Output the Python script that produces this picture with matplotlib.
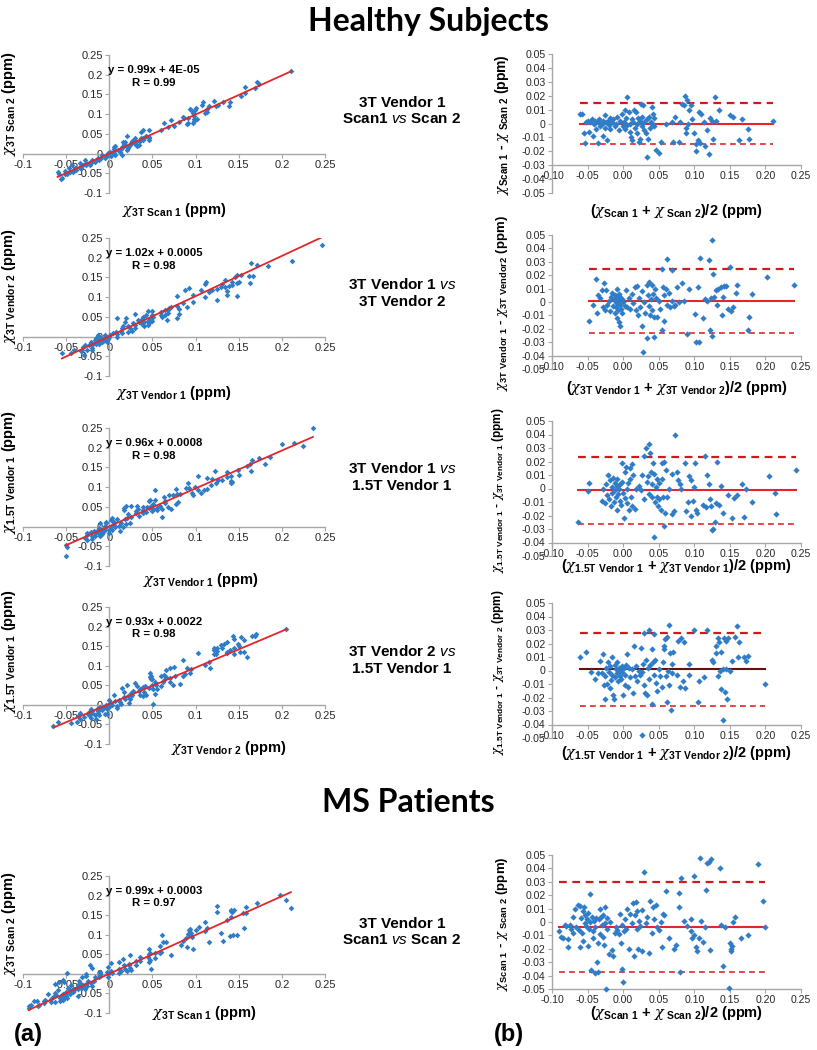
import numpy as np
import matplotlib
matplotlib.use('Agg')
import matplotlib.pyplot as plt
from matplotlib.ticker import FuncFormatter

plt.rcParams['font.family'] = ['Liberation Sans', 'DejaVu Sans']
plt.rcParams['mathtext.fontset'] = 'custom'
plt.rcParams['mathtext.rm'] = 'Liberation Sans'
plt.rcParams['mathtext.it'] = 'DejaVu Serif:italic'
plt.rcParams['mathtext.sf'] = 'Liberation Sans:italic'
plt.rcParams['mathtext.bf'] = 'Liberation Sans:bold'

W, H = 817, 1050

# Bland-Altman points: (mean, difference) in ppm
ba_scan = [(-0.060, 0.007), (-0.058, 0.007), (-0.055, -0.007), (-0.053, -0.014), (-0.052, 0.001), (-0.050, 0.002),
           (-0.048, -0.006), (-0.046, 0.001), (-0.044, 0.003), (-0.042, -0.009), (-0.041, 0.000), (-0.040, 0.002),
           (-0.038, -0.004), (-0.036, -0.014), (-0.035, 0.001), (-0.034, 0.003), (-0.032, -0.002), (-0.030, 0.000),
           (-0.029, -0.009), (-0.028, 0.002), (-0.026, -0.003), (-0.025, 0.006), (-0.024, 0.001), (-0.022, -0.012),
           (-0.021, 0.002), (-0.020, -0.001), (-0.019, 0.004), (-0.018, -0.004), (-0.016, 0.001), (-0.014, 0.003),
           (-0.012, -0.002), (-0.010, 0.000), (-0.008, 0.005), (-0.006, -0.005), (-0.004, 0.002), (-0.002, 0.007),
           (0.000, -0.002), (0.001, 0.001), (0.002, 0.010), (0.003, -0.004), (0.004, 0.004), (0.005, 0.019),
           (0.006, -0.001), (0.008, 0.008), (0.009, -0.006), (0.010, 0.000), (0.011, -0.010), (0.012, 0.003),
           (0.013, -0.012), (0.014, 0.001), (0.015, 0.010), (0.016, -0.003), (0.018, 0.008), (0.019, 0.000),
           (0.020, -0.007), (0.021, 0.004), (0.022, -0.013), (0.023, 0.002), (0.024, -0.011), (0.025, 0.014),
           (0.026, -0.002), (0.027, 0.005), (0.028, 0.013), (0.029, -0.005), (0.030, 0.001), (0.032, -0.007),
           (0.033, -0.024), (0.034, 0.003), (0.035, -0.011), (0.036, 0.005), (0.038, -0.003), (0.039, 0.001),
           (0.040, 0.012), (0.041, 0.000), (0.042, 0.007), (0.043, -0.002), (0.044, 0.004), (0.046, -0.019),
           (0.050, -0.021), (0.053, -0.013), (0.060, 0.000), (0.068, 0.001), (0.070, -0.013), (0.073, 0.005),
           (0.078, -0.013), (0.080, 0.001), (0.083, 0.014), (0.085, 0.013), (0.087, 0.020), (0.088, -0.003),
           (0.089, -0.007), (0.090, 0.017), (0.091, 0.000), (0.093, 0.010), (0.095, 0.013), (0.097, 0.003),
           (0.100, -0.007), (0.102, -0.015), (0.103, -0.020), (0.105, -0.012), (0.107, 0.008), (0.108, -0.014),
           (0.110, 0.007), (0.113, 0.001), (0.115, -0.016), (0.118, -0.005), (0.120, -0.022), (0.122, 0.004),
           (0.125, 0.002), (0.127, -0.011), (0.129, 0.019), (0.131, 0.002), (0.135, 0.010), (0.150, 0.006),
           (0.155, 0.005), (0.163, -0.012), (0.167, 0.003), (0.175, -0.004), (0.177, -0.011), (0.210, 0.002)]

ba_vendor = [(-0.048, -0.014), (-0.043, -0.002), (-0.038, 0.017), (-0.037, -0.008), (-0.035, 0.005), (-0.033, 0.003),
             (-0.030, 0.009), (-0.028, -0.004), (-0.027, 0.014), (-0.025, -0.006), (-0.024, 0.009), (-0.022, -0.002),
             (-0.020, 0.001), (-0.018, -0.007), (-0.017, 0.004), (-0.015, 0.007), (-0.014, -0.003), (-0.013, 0.002),
             (-0.012, -0.008), (-0.011, 0.005), (-0.010, 0.000), (-0.010, -0.004), (-0.009, 0.003), (-0.009, -0.012),
             (-0.008, 0.010), (-0.008, -0.001), (-0.007, 0.002), (-0.007, -0.006), (-0.006, -0.015), (-0.006, 0.006),
             (-0.005, -0.002), (-0.005, 0.001), (-0.004, -0.018), (-0.004, 0.004), (-0.003, -0.005), (-0.002, 0.002),
             (-0.001, -0.008), (0.000, 0.000), (0.002, -0.003), (0.004, 0.009), (0.006, -0.004), (0.008, 0.003),
             (0.010, -0.005), (0.012, 0.006), (0.014, -0.001), (0.016, 0.011), (0.018, -0.006), (0.020, 0.012),
             (0.021, -0.010), (0.022, 0.003), (0.024, -0.004), (0.026, 0.008), (0.027, -0.018), (0.028, -0.037),
             (0.030, 0.000), (0.031, -0.008), (0.033, -0.027), (0.034, 0.013), (0.035, 0.005), (0.036, -0.003),
             (0.037, 0.015), (0.038, -0.010), (0.039, 0.002), (0.040, 0.013), (0.041, -0.006), (0.042, 0.006),
             (0.043, -0.026), (0.044, -0.011), (0.045, 0.010), (0.046, 0.003), (0.048, -0.011), (0.050, 0.001),
             (0.052, -0.005), (0.054, 0.025), (0.055, -0.021), (0.056, 0.011), (0.057, -0.014), (0.058, 0.005),
             (0.060, 0.010), (0.061, -0.002), (0.062, 0.032), (0.064, 0.007), (0.066, -0.004), (0.068, 0.001),
             (0.069, 0.024), (0.071, -0.003), (0.073, -0.002), (0.075, 0.011), (0.078, 0.000), (0.083, 0.014),
             (0.085, 0.001), (0.090, -0.024), (0.092, 0.010), (0.101, -0.009), (0.103, -0.030), (0.105, 0.011),
             (0.107, -0.030), (0.108, 0.033), (0.112, -0.012), (0.115, 0.002), (0.118, 0.001), (0.121, 0.031),
             (0.122, -0.021), (0.123, 0.003), (0.125, 0.046), (0.125, -0.025), (0.126, 0.021), (0.128, 0.004),
             (0.130, 0.009), (0.132, -0.002), (0.134, 0.010), (0.137, 0.011), (0.139, -0.010), (0.140, 0.004),
             (0.142, 0.012), (0.144, 0.012), (0.148, -0.005), (0.150, 0.026), (0.152, -0.007), (0.155, -0.004),
             (0.158, 0.007), (0.160, 0.013), (0.175, -0.021), (0.177, -0.011), (0.181, 0.006), (0.202, 0.019),
             (0.240, 0.013)]

ba_field_v1 = [(-0.063, -0.025), (-0.050, -0.002), (-0.048, 0.004), (-0.030, -0.009), (-0.028, 0.000), (-0.026, -0.011),
               (-0.024, 0.003), (-0.022, -0.005), (-0.021, 0.010), (-0.020, -0.008), (-0.018, 0.006), (-0.017, -0.013),
               (-0.016, 0.001), (-0.015, -0.003), (-0.014, 0.008), (-0.013, -0.010), (-0.012, 0.004), (-0.011, -0.001),
               (-0.010, -0.006), (-0.009, 0.002), (-0.008, -0.016), (-0.008, 0.007), (-0.007, -0.004), (-0.006, 0.000),
               (-0.005, -0.009), (-0.004, 0.003), (-0.003, -0.012), (-0.002, 0.005), (-0.001, 0.019), (0.000, -0.003),
               (0.001, -0.022), (0.002, 0.012), (0.003, -0.007), (0.004, 0.016), (0.005, 0.000), (0.006, -0.011),
               (0.007, 0.004), (0.008, -0.016), (0.009, 0.007), (0.010, 0.015), (0.011, -0.006), (0.012, 0.018),
               (0.013, -0.013), (0.014, 0.010), (0.016, -0.015), (0.018, 0.000), (0.022, 0.002), (0.025, -0.001),
               (0.027, 0.010), (0.029, 0.024), (0.030, -0.008), (0.032, 0.030), (0.033, 0.005), (0.035, 0.009),
               (0.036, 0.033), (0.037, -0.004), (0.038, 0.026), (0.039, 0.012), (0.040, -0.006), (0.041, 0.003),
               (0.042, 0.019), (0.043, -0.036), (0.044, 0.011), (0.045, -0.010), (0.046, 0.001), (0.047, 0.007),
               (0.048, -0.006), (0.049, -0.013), (0.050, 0.004), (0.051, -0.008), (0.053, -0.016), (0.054, 0.007),
               (0.055, 0.019), (0.056, -0.006), (0.057, 0.020), (0.058, -0.028), (0.059, -0.018), (0.060, 0.014),
               (0.062, -0.006), (0.065, 0.000), (0.068, -0.019), (0.069, 0.011), (0.071, -0.017), (0.073, 0.040),
               (0.075, 0.012), (0.077, 0.006), (0.080, 0.003), (0.082, 0.000), (0.087, 0.019), (0.089, -0.017),
               (0.091, -0.010), (0.093, 0.009), (0.095, 0.006), (0.096, -0.020), (0.098, -0.009), (0.100, 0.001),
               (0.101, 0.019), (0.102, -0.016), (0.104, -0.018), (0.112, -0.012), (0.115, 0.024), (0.117, -0.014),
               (0.118, 0.010), (0.120, 0.003), (0.122, -0.008), (0.124, -0.013), (0.125, -0.031), (0.127, -0.030),
               (0.129, -0.025), (0.131, -0.011), (0.132, 0.020), (0.135, -0.012), (0.138, 0.002), (0.141, -0.018),
               (0.147, -0.005), (0.153, -0.022), (0.156, -0.007), (0.160, -0.005), (0.167, 0.003), (0.170, -0.021),
               (0.173, 0.000), (0.181, -0.010), (0.205, 0.009), (0.213, -0.003), (0.215, -0.019), (0.243, 0.014)]

ba_field_v2 = [(-0.060, 0.010), (-0.052, 0.014), (-0.045, -0.001), (-0.040, -0.006), (-0.035, -0.002), (-0.033, 0.007),
               (-0.030, -0.002), (-0.028, 0.012), (-0.027, -0.011), (-0.026, -0.021), (-0.025, -0.004), (-0.024, 0.002),
               (-0.022, -0.010), (-0.021, 0.006), (-0.020, -0.001), (-0.019, -0.013), (-0.018, 0.003), (-0.017, -0.007),
               (-0.016, 0.010), (-0.015, -0.003), (-0.014, -0.018), (-0.013, -0.021), (-0.012, 0.004), (-0.011, -0.005),
               (-0.010, 0.001), (-0.009, -0.002), (-0.008, 0.006), (-0.007, -0.008), (-0.006, 0.002), (-0.005, -0.004),
               (-0.004, 0.000), (-0.003, -0.006), (-0.002, 0.003), (-0.001, -0.001), (0.000, -0.018), (0.001, 0.002),
               (0.002, -0.003), (0.003, -0.011), (0.004, 0.004), (0.006, 0.012), (0.007, -0.012), (0.008, 0.002),
               (0.010, -0.005), (0.012, 0.001), (0.014, -0.017), (0.015, 0.018), (0.016, -0.004), (0.018, 0.003),
               (0.020, -0.008), (0.022, 0.000), (0.024, -0.003), (0.025, 0.017), (0.026, -0.001), (0.027, -0.048),
               (0.028, 0.005), (0.029, 0.028), (0.030, -0.011), (0.031, -0.017), (0.032, 0.008), (0.034, -0.018),
               (0.035, 0.002), (0.036, 0.030), (0.037, -0.006), (0.038, 0.004), (0.040, 0.016), (0.041, -0.025),
               (0.042, 0.006), (0.043, 0.027), (0.044, -0.003), (0.045, 0.008), (0.046, -0.009), (0.048, -0.015),
               (0.050, 0.001), (0.052, -0.004), (0.054, -0.012), (0.056, 0.006), (0.057, 0.018), (0.058, 0.016),
               (0.059, 0.023), (0.060, -0.004), (0.061, 0.025), (0.062, -0.023), (0.063, 0.000), (0.064, 0.034),
               (0.065, -0.011), (0.066, 0.013), (0.067, -0.029), (0.068, 0.005), (0.069, -0.002), (0.070, 0.014),
               (0.075, -0.003), (0.077, 0.022), (0.080, -0.012), (0.082, 0.024), (0.084, -0.008), (0.086, 0.021),
               (0.087, -0.013), (0.092, 0.005), (0.093, -0.003), (0.100, 0.030), (0.105, -0.023), (0.107, -0.008),
               (0.113, -0.005), (0.118, 0.030), (0.125, 0.008), (0.127, 0.006), (0.130, 0.018), (0.131, 0.013),
               (0.133, 0.024), (0.134, -0.004), (0.135, 0.021), (0.136, 0.000), (0.137, -0.014), (0.138, 0.014),
               (0.140, 0.001), (0.141, -0.037), (0.142, 0.024), (0.143, -0.016), (0.144, 0.022), (0.145, 0.001),
               (0.146, -0.021), (0.148, 0.024), (0.150, 0.000), (0.153, 0.007), (0.157, 0.025), (0.160, 0.033),
               (0.161, 0.010), (0.163, 0.021), (0.170, 0.010), (0.172, 0.007), (0.175, 0.011), (0.200, -0.010)]

ba_ms_scan = [(-0.090, -0.007), (-0.088, -0.011), (-0.085, -0.012), (-0.082, -0.002), (-0.080, -0.003), (-0.078, -0.019),
              (-0.077, -0.013), (-0.075, -0.002), (-0.073, -0.005), (-0.071, -0.008), (-0.070, 0.004), (-0.068, 0.010),
              (-0.066, -0.004), (-0.064, 0.013), (-0.062, -0.006), (-0.061, -0.019), (-0.060, 0.012), (-0.059, 0.003),
              (-0.058, -0.008), (-0.057, 0.008), (-0.056, -0.014), (-0.055, 0.011), (-0.054, -0.001), (-0.053, 0.005),
              (-0.052, -0.003), (-0.051, 0.002), (-0.050, -0.018), (-0.049, 0.007), (-0.048, -0.005), (-0.047, 0.021),
              (-0.046, 0.000), (-0.045, -0.036), (-0.044, 0.004), (-0.043, -0.007), (-0.042, -0.012), (-0.041, 0.001),
              (-0.040, -0.004), (-0.039, -0.038), (-0.038, 0.003), (-0.037, -0.030), (-0.036, -0.016), (-0.035, -0.037),
              (-0.034, 0.002), (-0.033, 0.010), (-0.032, -0.009), (-0.031, 0.004), (-0.030, -0.002), (-0.029, -0.011),
              (-0.028, 0.005), (-0.027, -0.017), (-0.026, -0.001), (-0.025, 0.011), (-0.024, -0.050), (-0.023, 0.003),
              (-0.022, -0.005), (-0.020, -0.024), (-0.018, 0.000), (-0.016, -0.021), (-0.014, -0.025), (-0.012, -0.008),
              (-0.010, -0.004), (-0.008, -0.006), (-0.006, -0.009), (-0.004, 0.006), (-0.003, -0.016), (-0.002, -0.035),
              (-0.001, -0.002), (0.000, -0.045), (0.001, -0.007), (0.002, 0.002), (0.004, -0.005), (0.006, 0.010),
              (0.008, -0.020), (0.010, 0.006), (0.012, -0.001), (0.014, 0.014), (0.015, -0.025), (0.016, 0.005),
              (0.018, 0.015), (0.019, -0.005), (0.020, 0.008), (0.021, -0.020), (0.022, 0.001), (0.024, -0.003),
              (0.026, 0.009), (0.027, -0.022), (0.030, 0.037), (0.032, -0.001), (0.034, 0.004), (0.036, -0.023),
              (0.038, 0.016), (0.040, -0.008), (0.042, 0.011), (0.044, 0.002), (0.046, 0.013), (0.048, -0.004),
              (0.050, -0.006), (0.053, 0.000), (0.055, -0.019), (0.056, 0.006), (0.058, 0.005), (0.060, 0.023),
              (0.065, -0.012), (0.072, -0.020), (0.074, -0.017), (0.078, 0.011), (0.079, 0.022), (0.080, -0.037),
              (0.081, 0.033), (0.085, 0.001), (0.090, -0.003), (0.095, 0.002), (0.096, -0.007), (0.097, -0.012),
              (0.099, 0.034), (0.100, -0.010), (0.102, -0.019), (0.104, -0.022), (0.106, -0.012), (0.108, 0.048),
              (0.110, 0.001), (0.112, -0.015), (0.115, -0.004), (0.117, 0.024), (0.118, 0.044), (0.121, 0.045),
              (0.122, -0.021), (0.124, 0.047), (0.136, 0.040), (0.137, -0.002), (0.141, -0.033), (0.143, -0.004),
              (0.149, -0.049), (0.150, -0.016), (0.151, -0.020), (0.152, -0.022), (0.153, -0.018), (0.155, 0.000),
              (0.157, 0.004), (0.165, -0.012), (0.176, -0.010), (0.189, 0.043), (0.197, 0.016), (0.200, -0.004)]

# +1: difference = x - y of the scatter, -1: difference = y - x
diff_sign = [1, 1, -1, -1, 1]

fit_slope = [0.99, 1.02, 0.96, 0.93, 0.99]
fit_icpt = [4e-05, 0.0005, 0.0008, 0.0022, 0.0003]
fit_label = ['y = 0.99x + 4E-05', 'y = 1.02x + 0.0005', 'y = 0.96x + 0.0008',
             'y = 0.93x + 0.0022', 'y = 0.99x + 0.0003']
r_label = ['R = 0.99', 'R = 0.98', 'R = 0.98', 'R = 0.98', 'R = 0.97']

bias = [0.0, 0.001, -0.001, 0.001, -0.0035]
loa_hi = [0.0145, 0.025, 0.0235, 0.028, 0.030]
loa_lo = [-0.015, -0.023, -0.026, -0.026, -0.037]
ba_cross = [-0.03, -0.04, -0.04, -0.04, -0.05]

x_name = [r'3T\ Scan\ 1', r'3T\ Vendor\ 1', r'3T\ Vendor\ 1', r'3T\ Vendor\ 2', r'3T\ Scan\ 1']
y_name = [r'3T\ Scan\ 2', r'3T\ Vendor\ 2', r'1.5T\ Vendor\ 1', r'1.5T\ Vendor\ 1', r'3T\ Scan\ 2']
ba_a = [r'Scan\ 1', r'3T\ Vendor\ 1', r'1.5T\ Vendor\ 1', r'1.5T\ Vendor\ 1', r'Scan\ 1']
ba_b = [r'\ Scan\ 2', r'3T\ Vendor2', r'3T\ Vendor\ 1', r'3T\ Vendor\ 2', r'\ Scan\ 2']
ba_b_x = [r'\ Scan\ 2', r'3T\ Vendor\ 2', r'3T\ Vendor\ 1', r'3T\ Vendor\ 2', r'\ Scan\ 2']
mid_label = ['3T Vendor 1\nScan1 $\\mathsf{vs}$ Scan 2',
             '3T Vendor 1 $\\mathsf{vs}$\n3T Vendor 2',
             '3T Vendor 1 $\\mathsf{vs}$\n1.5T Vendor 1',
             '3T Vendor 2 $\\mathsf{vs}$\n1.5T Vendor 1',
             '3T Vendor 1\nScan1 $\\mathsf{vs}$ Scan 2']

all_ba = [ba_scan, ba_vendor, ba_field_v1, ba_field_v2, ba_ms_scan]

# layout in pixels of the reference
sc_top = [55, 238, 428, 607, 876]
sc_bot = [193, 376, 566, 744, 1013]
ba_top = [54, 235, 421, 603, 855]
ba_bot = [193, 369, 556, 738, 989]
mid_y = [111, 293, 477, 660, 932]
sc_ylab_y = [0.65, 0.65, 0.68, 0.68, 0.65]
sc_xlab = [(0.5, -0.12), (0.5, -0.12), (0.59, -0.10), (0.68, -0.03), (0.6, 0.0)]
ba_xlab_y = [-0.13, -0.14, -0.075, -0.11, -0.18]
ba_ylab_size = [10, 9.5, 8.5, 8.5, 9.5]
ba_ylab_x = [-0.2, -0.2, -0.215, -0.215, -0.2]

BLUE = '#2F7DC8'
RED = '#E3262A'
GRAY = '#A6A6A6'

fig = plt.figure(figsize=(W / 100, H / 100), dpi=100)


def px_axes(left, top, right, bottom):
    return fig.add_axes([left / W, 1 - bottom / H, (right - left) / W, (bottom - top) / H])


def fmt_general(v, pos):
    v = round(v, 4)
    if abs(v) < 1e-9:
        return '0'
    return '%g' % v


def fmt_two(v, pos):
    v = round(v, 4)
    if abs(v) < 1e-9:
        v = 0.0
    return '%.2f' % v


def fmt_two_zero(v, pos):
    v = round(v, 4)
    if abs(v) < 1e-9:
        return '0'
    return '%.2f' % v


def style_axes(ax, fs):
    for s in ['top', 'right']:
        ax.spines[s].set_visible(False)
    for s in ['left', 'bottom']:
        ax.spines[s].set_color(GRAY)
        ax.spines[s].set_linewidth(1.0)
    ax.tick_params(direction='out', length=3, width=0.8, color=GRAY,
                   labelsize=fs, labelcolor='#262626', pad=1.5)


for i in range(5):
    pts = np.array(all_ba[i])
    m, d = pts[:, 0], pts[:, 1]
    s = diff_sign[i]
    xs = m + s * d / 2
    ys = m - s * d / 2

    # ---- scatter with regression line
    ax = px_axes(23, sc_top[i], 325, sc_bot[i])
    ax.set_xlim(-0.1, 0.25)
    ax.set_ylim(-0.1, 0.25)
    ax.spines['left'].set_position(('data', 0))
    ax.spines['bottom'].set_position(('data', 0))
    style_axes(ax, 8)
    ax.set_xticks(np.arange(-0.1, 0.2501, 0.05))
    ax.set_yticks(np.arange(-0.1, 0.2501, 0.05))
    ax.xaxis.set_major_formatter(FuncFormatter(fmt_general))
    ax.yaxis.set_major_formatter(FuncFormatter(fmt_general))
    ax.plot(xs, ys, 'D', color=BLUE, ms=2.9, mew=0, clip_on=False, zorder=3)
    lx = np.array([xs.min(), xs.max()])
    ax.plot(lx, fit_slope[i] * lx + fit_icpt[i], color=RED, lw=1.3, zorder=4)
    ax.text(0.052, 0.212, fit_label[i], ha='center', va='center', fontsize=8.2, fontweight='bold')
    ax.text(0.052, 0.180, r_label[i], ha='center', va='center', fontsize=8.2, fontweight='bold')
    ax.text(-0.045, sc_ylab_y[i], r'$\chi_{\mathbf{%s}}$ (ppm)' % y_name[i], transform=ax.transAxes,
            rotation=90, ha='center', va='center', fontsize=10.5, fontweight='bold')
    ax.text(sc_xlab[i][0], sc_xlab[i][1], r'$\chi_{\mathbf{%s}}$ (ppm)' % x_name[i],
            transform=ax.transAxes, ha='center', va='center', fontsize=10.5, fontweight='bold')

    # ---- comparison label
    fig.text(402 / W, 1 - mid_y[i] / H, mid_label[i], ha='center', va='center',
             fontsize=11, fontweight='bold', linespacing=1.2)

    # ---- Bland-Altman
    bx = px_axes(552, ba_top[i], 801, ba_bot[i])
    bx.set_xlim(-0.10, 0.25)
    bx.set_ylim(-0.05, 0.05)
    bx.spines['bottom'].set_position(('data', ba_cross[i]))
    style_axes(bx, 7.6)
    bx.set_xticks(np.arange(-0.10, 0.2501, 0.05))
    bx.set_yticks(np.arange(-0.05, 0.0501, 0.01))
    bx.xaxis.set_major_formatter(FuncFormatter(fmt_two))
    bx.yaxis.set_major_formatter(FuncFormatter(fmt_two_zero))
    span = [m.min(), m.max()]
    bx.plot(span, [bias[i]] * 2, color=RED if i != 3 else '#6B0D0D', lw=1.5, zorder=2)
    bx.plot(span, [loa_hi[i]] * 2, color='#D0191E', lw=1.6, ls=(0, (3.5, 2.5)), zorder=2)
    bx.plot(span, [loa_lo[i]] * 2, color=RED, lw=1.2, ls=(0, (3.5, 2.5)), zorder=2)
    bx.plot(m, d, 'D', color=BLUE, ms=3.2, mew=0, clip_on=False, zorder=3)
    bx.text(ba_ylab_x[i], 0.49, r'$\chi_{\mathbf{%s}}$ - $\chi_{\mathbf{%s}}$ (ppm)' % (ba_a[i], ba_b[i]),
            transform=bx.transAxes, rotation=90, ha='center', va='center',
            fontsize=ba_ylab_size[i], fontweight='bold')
    bx.text(0.5, ba_xlab_y[i], r'($\chi_{\mathbf{%s}}$ + $\chi_{\mathbf{%s}}$)/2 (ppm)' % (ba_a[i], ba_b_x[i]),
            transform=bx.transAxes, ha='center', va='center', fontsize=10.5, fontweight='bold')

fig.text(428 / W, 1 - 22 / H, 'Healthy Subjects', ha='center', va='center',
         fontsize=23, fontweight='bold', family=['Lato', 'DejaVu Sans'])
fig.text(408 / W, 1 - 803 / H, 'MS Patients', ha='center', va='center',
         fontsize=23, fontweight='bold', family=['Lato', 'DejaVu Sans'])
fig.text(28 / W, 1 - 1034 / H, '(a)', ha='center', va='center', fontsize=17, fontweight='bold')
fig.text(509 / W, 1 - 1034 / H, '(b)', ha='center', va='center', fontsize=17, fontweight='bold')

fig.savefig('out.png', dpi=100, facecolor='white')
